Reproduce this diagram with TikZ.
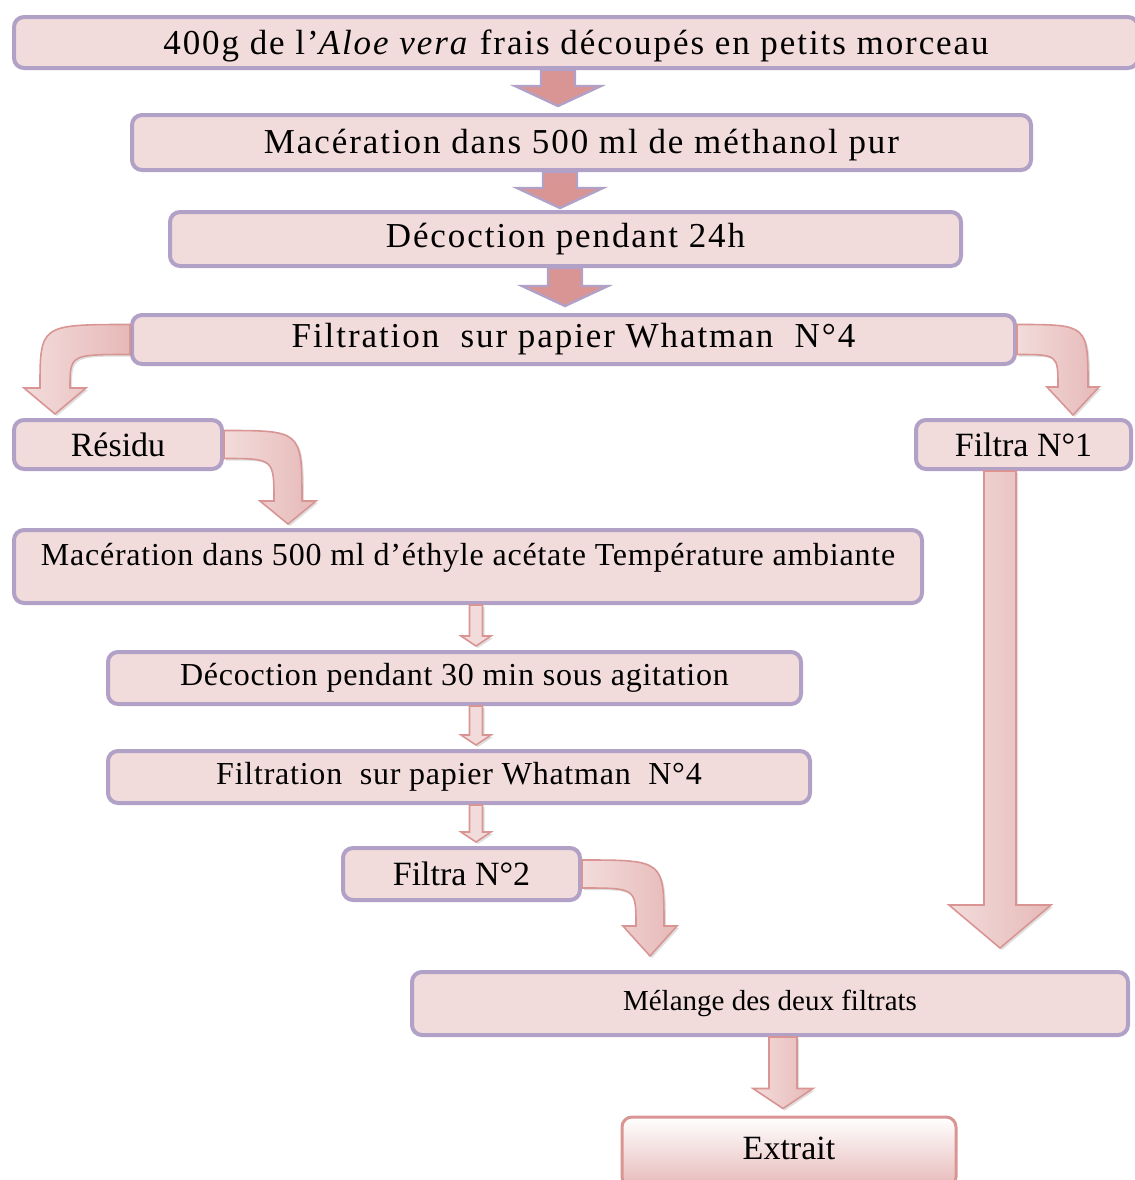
\documentclass[tikz,border=0pt]{standalone}
\usepackage{fontspec}
\setmainfont{Liberation Serif}
\newfontfamily\espacelarge[LetterSpace=5.5]{Liberation Serif}
\newfontfamily\espacefin[LetterSpace=2.4]{Liberation Serif}
\usetikzlibrary{calc,shadows}

\definecolor{rosefond}{HTML}{F2DCDB}
\definecolor{lavande}{HTML}{B2A1C7}
\definecolor{rosefleche}{HTML}{D99594}
\definecolor{rosemoyen}{HTML}{E6B9B8}

% fleche droite vers le bas : style, depart, pointe, demi-corps, demi-tete, longueur tete
\newcommand{\flecheV}[6]{%
  \path[#1] let \p1=(#2), \p2=(#3) in
    (\x2-#4,\y1) -- (\x2+#4,\y1) -- (\x2+#4,\y2+#6) -- (\x2+#5,\y2+#6) -- (\x2,\y2)
    -- (\x2-#5,\y2+#6) -- (\x2-#4,\y2+#6) -- cycle;}
% fleche coudee : part a l'horizontale, arrive vers le bas
\newcommand{\flecheC}[6]{%
  \path[#1] let \p1=(#2), \p2=(#3), \n1={sign(\x2-\x1)} in
    (\x1,\y1+#4) .. controls (\x2+\n1*#4,\y1+#4) .. (\x2+\n1*#4,\y2+#6)
    -- (\x2+\n1*#5,\y2+#6) -- (\x2,\y2) -- (\x2-\n1*#5,\y2+#6) -- (\x2-\n1*#4,\y2+#6)
    .. controls (\x2-\n1*#4,\y1-#4) .. (\x1,\y1-#4) -- cycle;}

\begin{document}
\begin{tikzpicture}[x=0.5pt,y=-0.5pt,
  etape/.style={draw=lavande,fill=rosefond,line width=2pt,rounded corners=5pt,inner sep=0pt,
    font=\fontsize{17}{20}\selectfont},
  large/.style={font=\espacelarge\fontsize{17.5}{20}\selectfont},
  serre/.style={font=\espacefin\fontsize{16}{19}\selectfont},
  pleine/.style={fill=rosefleche,draw=lavande,line width=1.2pt},
  ombre/.style={drop shadow={opacity=0.25,shadow xshift=1pt,shadow yshift=-1pt}},
  courbe/.style={ombre,draw=rosefleche,line width=0.8pt,left color=rosefond,right color=rosemoyen},
  fine/.style={ombre,draw=rosefleche,line width=0.8pt,fill=rosefond}]
  \clip (0,0) rectangle (1135,1180);

  \node[etape,large,minimum width=562pt,minimum height=25.5pt,text depth=0pt] (lot) at (576,42.5)
    {400g de l’\textit{Aloe vera} frais découpés en petits morceau};
  \node[etape,large,minimum width=449.5pt,minimum height=27.5pt,text depth=1pt] (mac) at (581.5,142.5)
    {Macération dans 500 ml de méthanol pur};
  \node[etape,large,minimum width=395.5pt,minimum height=27pt] (dec) at (565.5,239) {Décoction pendant 24h};
  \node[etape,large,minimum width=441.5pt,minimum height=24.5pt] (fil) at (573.5,339.5)
    {Filtration\ \ sur papier Whatman\ \ N°4};
  \node[etape,minimum width=104pt,minimum height=24.5pt] (res) at (118,444.5) {Résidu};
  \node[etape,minimum width=107.5pt,minimum height=24.5pt] (fa) at (1023.5,444.5) {Filtra N°1};
  \node[etape,serre,minimum width=454pt,minimum height=36.5pt,text depth=12pt]
    (eth) at (468,566.5) {Macération dans 500 ml d’éthyle acétate Température ambiante};
  \node[etape,serre,minimum width=346.5pt,minimum height=26pt] (d30) at (454.5,678)
    {Décoction pendant 30 min sous agitation};
  \node[etape,serre,minimum width=351pt,minimum height=26pt] (fil2) at (459,777)
    {Filtration\ \ sur papier Whatman\ \ N°4};
  \node[etape,minimum width=118.5pt,minimum height=26pt] (fb) at (461.5,874) {Filtra N°2};
  \node[etape,minimum width=358pt,minimum height=31.5pt,font=\fontsize{14.5}{17}\selectfont] (mel) at (770,1003.5)
    {Mélange des deux filtrats};
  \node[draw=rosefleche,line width=1.5pt,rounded corners=5pt,top color=white,bottom color=rosemoyen,
    minimum width=167pt,minimum height=35pt,text depth=4pt,font=\fontsize{17}{20}\selectfont] (ext) at (789,1152) {Extrait};

  \flecheV{pleine}{558,0 |- lot.south}{$(558,0 |- mac.north)+(0,-7)$}{8.5pt}{21.5pt}{10pt}
  \flecheV{pleine}{560,0 |- mac.south}{$(560,0 |- dec.north)+(0,-2)$}{8.5pt}{21.5pt}{10pt}
  \flecheV{pleine}{565,0 |- dec.south}{$(565,0 |- fil.north)+(0,-7)$}{8.5pt}{21.5pt}{10pt}

  \flecheC{courbe}{fil.west}{$(55,0 |- res.north)+(0,-4)$}{7.5pt}{15.5pt}{13pt}
  \flecheC{courbe}{fil.east}{$(1073,0 |- fa.north)+(0,-3)$}{7.5pt}{13pt}{14pt}
  \flecheC{courbe}{res.east}{$(288,0 |- eth.north)+(0,-4)$}{7pt}{14pt}{11.5pt}
  \flecheC{courbe}{fb.east}{$(650,0 |- mel.north)+(0,-14)$}{7pt}{13.5pt}{15pt}

  \flecheV{fine}{476,0 |- eth.south}{$(476,0 |- d30.north)+(0,-4)$}{3.25pt}{7.5pt}{5pt}
  \flecheV{fine}{476,0 |- d30.south}{$(476,0 |- fil2.north)+(0,-4)$}{3.25pt}{7.5pt}{5pt}
  \flecheV{fine}{476,0 |- fil2.south}{$(476,0 |- fb.north)+(0,-4)$}{3.25pt}{7.5pt}{5pt}

  \flecheV{courbe}{1001,0 |- fa.south}{$(1000,0 |- mel.north)+(0,-22)$}{8pt}{25.5pt}{21.5pt}
  \flecheV{courbe}{782,0 |- mel.south}{$(783,0 |- ext.north)+(0,-7)$}{7pt}{15pt}{10pt}
\end{tikzpicture}
\end{document}
